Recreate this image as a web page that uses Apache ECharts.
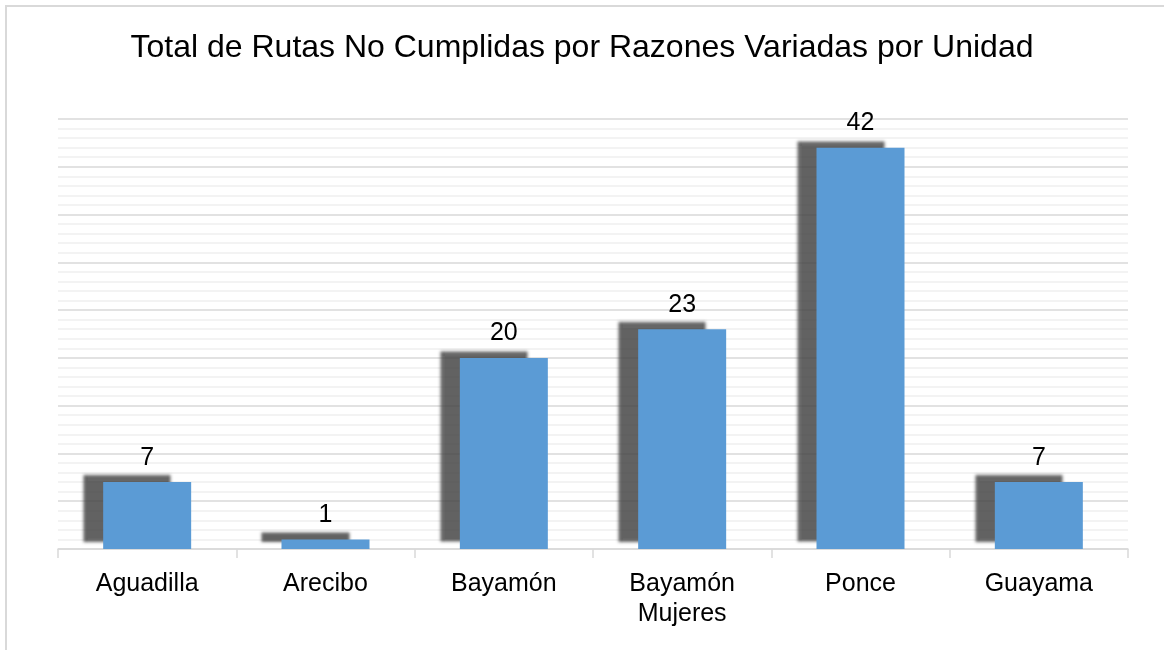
<!DOCTYPE html>
<html>
<head>
<meta charset="utf-8">
<script src="https://cdn.jsdelivr.net/npm/echarts@6/dist/echarts.min.js"></script>
<style>
html, body { margin: 0; padding: 0; background: #fff; }
#frame { position: absolute; left: 5px; top: 5px; width: 1159px; height: 645px;
  border-left: 2px solid #d9d9d9; border-top: 2px solid #d9d9d9; }
#main { position: absolute; left: 0; top: 0; width: 1164px; height: 650px; }
</style>
</head>
<body>
<div id="frame"></div>
<div id="main"></div>
<script>
// unidades y rutas no cumplidas
var unidades = ['Aguadilla', 'Arecibo', 'Bayamón', 'Bayamón\nMujeres', 'Ponce', 'Guayama'];
var rutasNoCumplidas = [7, 1, 20, 23, 42, 7];

var chart = echarts.init(document.getElementById('main'));
chart.setOption({
	animation: false,
	title: {
		text: 'Total de Rutas No Cumplidas por Razones Variadas por Unidad',
		left: 'center',
		top: 27,
		textStyle: {
			fontFamily: 'Liberation Sans, Arial',
			fontSize: 32,
			fontWeight: 'normal',
			color: '#000'
		}
	},
	grid: { left: 58, right: 36, top: 119, bottom: 101 },
	xAxis: {
		type: 'category',
		data: unidades,
		axisLine: { lineStyle: { color: '#d9d9d9', width: 1.5 } },
		axisTick: { show: true, length: 9, lineStyle: { color: '#d9d9d9', width: 1.5 } },
		axisLabel: {
			color: '#000',
			fontFamily: 'Liberation Sans, Arial',
			fontSize: 25,
			lineHeight: 30,
			margin: 20
		}
	},
	yAxis: {
		type: 'value',
		min: 0,
		max: 45,
		interval: 5,
		axisLabel: { show: false },
		axisLine: { show: false },
		axisTick: { show: false },
		splitLine: { lineStyle: { color: '#d9d9d9', width: 1.5 } },
		minorTick: { show: false, splitNumber: 5 },
		minorSplitLine: { show: true, lineStyle: { color: '#f0f0f0', width: 1.5 } }
	},
	series: [{
		type: 'bar',
		data: rutasNoCumplidas,
		barWidth: 88,
		itemStyle: {
			color: '#5b9bd5',
			shadowColor: 'rgba(70,70,70,0.85)',
			shadowBlur: 3,
			shadowOffsetX: -20,
			shadowOffsetY: -7
		},
		label: {
			show: true,
			position: 'top',
			distance: 12,
			color: '#000',
			fontFamily: 'Liberation Sans, Arial',
			fontSize: 25
		}
	}]
});
</script>
</body>
</html>
